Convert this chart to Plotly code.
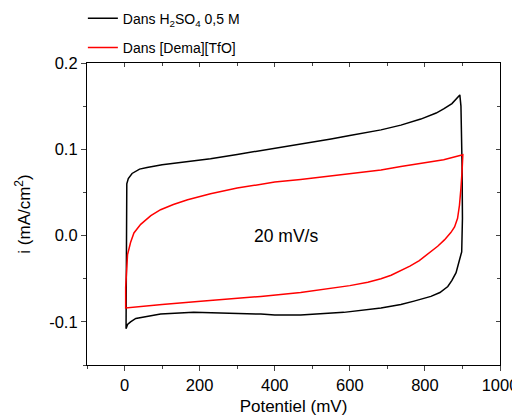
import plotly.graph_objects as go

# Black: H2SO4 0.5 M (closed cycle)
h2so4_x = [4, 4, 6, 10, 20, 40, 60, 100, 150, 203, 229, 300, 400, 469, 550, 600, 683, 736, 789, 830, 851, 872, 893,
           896, 898, 899, 900, 900, 898, 896, 890, 883, 872, 861, 840, 816, 771, 736, 683, 584, 469, 400, 363, 280,
           203, 184, 96, 50, 30, 16, 8, 4]
h2so4_y = [-0.108, 0.055, 0.060, 0.066, 0.072, 0.077, 0.079, 0.082, 0.0845, 0.0875, 0.089, 0.094, 0.101, 0.1065, 0.112,
           0.116, 0.1225, 0.128, 0.135, 0.142, 0.147, 0.153, 0.163,
           0.150, 0.120, 0.080, 0.020, -0.016, -0.019, -0.022, -0.033, -0.043, -0.052, -0.059, -0.066, -0.0705, -0.076,
           -0.080, -0.084, -0.089, -0.092, -0.092, -0.091, -0.090, -0.089, -0.089, -0.091, -0.094, -0.096, -0.100,
           -0.103, -0.108]

# Red: [Dema][TfO] (closed cycle)
dema_x = [3, 5, 8, 16, 25, 43, 70, 96, 130, 168, 203, 229, 300, 400, 469, 550, 600, 683, 736, 800, 850, 901,
          901, 899, 896, 892, 887, 879, 869, 852, 834, 810, 785, 760, 736, 710, 683, 648, 600, 550, 469, 363, 280,
          203, 100, 40, 3, 3]
dema_y = [-0.060, -0.040, -0.022, -0.008, 0.003, 0.013, 0.023, 0.030, 0.036, 0.0416, 0.046, 0.0485, 0.055, 0.062,
          0.065, 0.069, 0.072, 0.076, 0.080, 0.084, 0.088, 0.0936,
          0.090, 0.075, 0.055, 0.035, 0.020, 0.010, 0.0035, -0.005, -0.0124, -0.021, -0.029, -0.0355, -0.041, -0.046,
          -0.050, -0.054, -0.058, -0.061, -0.066, -0.0705, -0.073, -0.076, -0.080, -0.082, -0.084, -0.060]

legend_names = ["Dans H<sub>2</sub>SO<sub>4</sub> 0,5 M", "Dans [Dema][TfO]"]
x_range = [-100, 1000]
y_range = [-0.15, 0.2]
x_ticks = [0, 200, 400, 600, 800, 1000]
y_ticks = [-0.1, 0.0, 0.1, 0.2]
y_ticklabels = ["-0.1", "0.0", "0.1", "0.2"]

FONT = "Arial, Liberation Sans, sans-serif"

fig = go.Figure()
fig.add_trace(go.Scatter(x=h2so4_x, y=h2so4_y, mode="lines", name=legend_names[0],
                         line=dict(color="black", width=1.5), legendgroup="a"))
fig.add_trace(go.Scatter(x=dema_x, y=dema_y, mode="lines", name=legend_names[1],
                         line=dict(color="red", width=1.5), legendgroup="b"))
# invisible trace to activate mirror axes (top/right, inward ticks)
fig.add_trace(go.Scatter(x=[x_range[0]], y=[y_range[0]], xaxis="x2", yaxis="y2", mode="markers",
                         marker=dict(opacity=0), showlegend=False, hoverinfo="skip"))

fig.add_annotation(x=429, y=0.0, text="20 mV/s", showarrow=False,
                   font=dict(family=FONT, size=17.5, color="black"))

axis_common = dict(showgrid=False, zeroline=False, showline=True, linecolor="black", linewidth=1.2,
                   automargin=False)

fig.update_layout(
    width=512, height=409,
    margin=dict(l=79, r=20, t=55, b=52, autoexpand=False),
    plot_bgcolor="white", paper_bgcolor="white",
    font=dict(family=FONT, size=16, color="black"),
    showlegend=True,
    legend=dict(x=-0.01, y=1.20, xanchor="left", yanchor="top", bgcolor="rgba(0,0,0,0)",
                font=dict(family=FONT, size=14), tracegroupgap=8, itemwidth=30),
    xaxis=dict(range=x_range, tickvals=x_ticks, ticks="outside", ticklen=5, tickwidth=1.2,
               minor=dict(dtick=100, tick0=0, ticks="outside", ticklen=3, tickwidth=1.2),
               title=dict(text="Potentiel (mV)", font=dict(size=17), standoff=7),
               tickfont=dict(size=16.5), **axis_common),
    yaxis=dict(range=y_range, tickvals=y_ticks, ticktext=y_ticklabels, ticks="outside", ticklen=5, tickwidth=1.2,
               minor=dict(dtick=0.05, tick0=0, ticks="outside", ticklen=3, tickwidth=1.2),
               title=dict(text="i (mA/cm<sup>2</sup>)", font=dict(size=17), standoff=14),
               tickfont=dict(size=16.5), **axis_common),
    xaxis2=dict(range=x_range, overlaying="x", side="top", tickvals=x_ticks, ticks="inside", ticklen=4,
                tickwidth=1.2, showticklabels=False,
                minor=dict(dtick=100, tick0=0, ticks="inside", ticklen=3, tickwidth=1.2), **axis_common),
    yaxis2=dict(range=y_range, overlaying="y", side="right", tickvals=y_ticks, ticks="inside", ticklen=4,
                tickwidth=1.2, showticklabels=False,
                minor=dict(dtick=0.05, tick0=0, ticks="inside", ticklen=3, tickwidth=1.2), **axis_common),
)

fig.write_html("out.html")
